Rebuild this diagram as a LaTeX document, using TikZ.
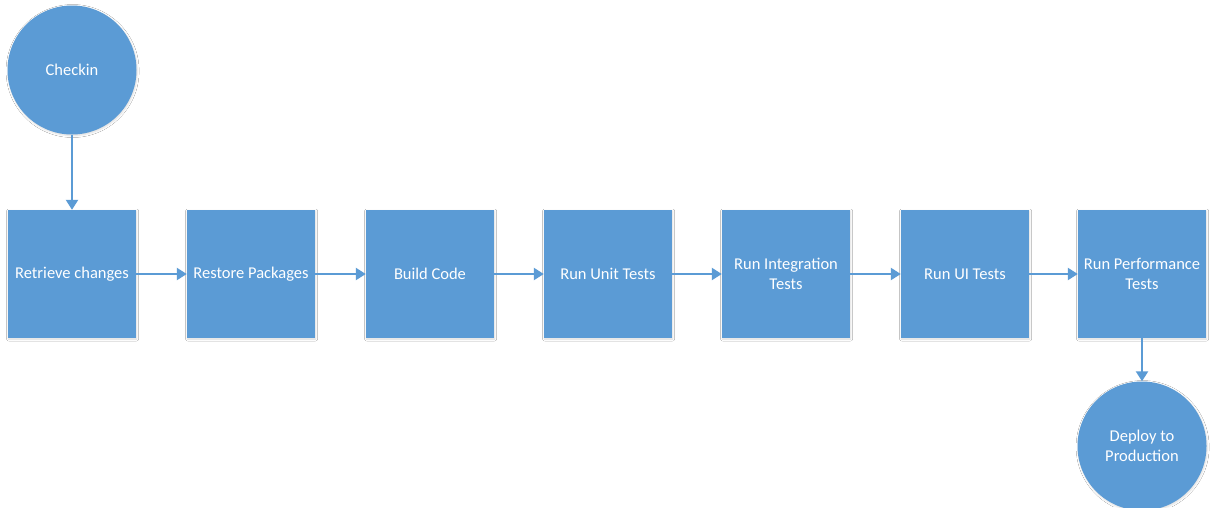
\documentclass[tikz,border=0pt]{standalone}
\usepackage{fontspec}
\setmainfont{Carlito}
\usetikzlibrary{arrows.meta,shadows.blur}
\definecolor{stepblue}{HTML}{5B9BD5}
\tikzset{
  stepbox/.style={rectangle, fill=stepblue, draw=none,
    minimum width=128pt, minimum height=128pt, inner sep=0pt,
    text=white, font=\fontsize{16.5}{20}\selectfont, align=center,
    blur shadow={shadow xshift=0.6pt, shadow yshift=-1pt, shadow blur radius=2pt, shadow opacity=15}},
  endpoint/.style={circle, fill=stepblue, draw=none,
    minimum size=129pt, inner sep=0pt,
    text=white, font=\fontsize{16.5}{20}\selectfont, align=center,
    blur shadow={shadow xshift=0.6pt, shadow yshift=-1pt, shadow blur radius=2pt, shadow opacity=15}},
  flow/.style={draw=stepblue, line width=2.2pt, -{Triangle[length=10pt,width=12pt]}}
}
\begin{document}
\begin{tikzpicture}[x=1pt,y=-1pt]
  \useasboundingbox[fill=white] (0,0) rectangle (1212,507);
  \node[endpoint] (checkin) at (72,70) {Checkin};
  \node[stepbox] (retrieve) at (72,274) {Retrieve changes};
  \node[stepbox] (restore) at (251,274) {Restore Packages};
  \node[stepbox] (build) at (430,274) {Build Code};
  \node[stepbox] (unit) at (608,274) {Run Unit Tests};
  \node[stepbox] (integ) at (786,274) {Run Integration\\Tests};
  \node[stepbox] (ui) at (965,274) {Run UI Tests};
  \node[stepbox] (perf) at (1142,274) {Run Performance\\Tests};
  \node[endpoint] (deploy) at (1142,446) {Deploy to\\Production};
  \draw[flow] (checkin) -- (retrieve);
  \draw[flow] (retrieve) -- (restore);
  \draw[flow] (restore) -- (build);
  \draw[flow] (build) -- (unit);
  \draw[flow] (unit) -- (integ);
  \draw[flow] (integ) -- (ui);
  \draw[flow] (ui) -- (perf);
  \draw[flow] (perf) -- (deploy);
\end{tikzpicture}
\end{document}
